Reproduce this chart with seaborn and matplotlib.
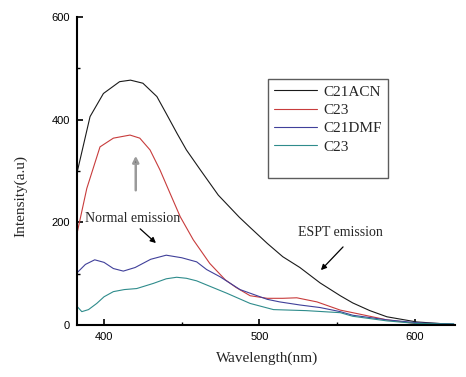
import matplotlib
matplotlib.use("Agg")
import matplotlib.pyplot as plt
from matplotlib.lines import Line2D
from matplotlib.ticker import MultipleLocator
import seaborn as sns
import pandas as pd

# ---- data ----
wl_acn = [382.8, 391, 399.6, 410, 417, 425, 434, 440, 447, 453, 462, 473.5, 487, 494,
          505, 515, 526, 539, 552, 560, 571, 582, 601, 625]
int_acn = [299, 406, 451, 474, 477, 471, 445, 412, 373, 341, 302, 253, 210, 190,
           159, 133, 112, 82, 57, 43, 28, 16, 6, 1]

wl_c23a = [382.8, 388.9, 397.4, 406, 416.7, 423, 429.6, 436, 442.4, 449, 457.4, 468,
           478, 485, 494, 505, 515, 524, 537, 552, 560, 582, 603, 625]
int_c23a = [181, 266, 347, 364, 370, 364, 341, 302, 257, 211, 166, 120,
            88, 73, 57, 52, 52, 53, 45, 29, 24, 10, 2, 0]

wl_dmf = [382.4, 388, 394, 400, 406, 412.4, 420, 430, 440, 450, 459.6, 466, 474.6,
          487.5, 505, 513, 526, 539, 552, 560, 582, 603, 625]
int_dmf = [101, 118, 127, 122, 110, 105, 112, 128, 136, 131, 123, 108, 94,
           69, 50, 45, 39, 34, 26, 19, 10, 4, 2]

wl_c23b = [382.4, 385.7, 390, 395.3, 400, 406, 413, 421, 431.7, 440, 446.7, 453, 459.6,
           466, 478.9, 494, 509, 530, 552, 560, 582, 601, 625]
int_c23b = [37, 26, 30, 42, 55, 65, 69, 71, 81, 90, 93, 91, 86,
            78, 62, 42, 30, 28, 24, 17, 8, 3, 2]

series_names = ["C21ACN", "C23", "C21DMF", "C23"]
series_colors = ["#1a1a1a", "#c83c3c", "#40409a", "#2f8c8c"]

y_ticks = [0, 200, 400, 600]
x_ticks = [400, 500, 600]

# ---- figure ----
sns.set_style("ticks")
plt.rcParams["font.family"] = ["Liberation Sans", "DejaVu Sans"]
serif = ["Liberation Serif", "DejaVu Serif"]

fig = plt.figure(figsize=(4.66, 3.77), dpi=100)
ax = fig.add_axes([77 / 466, 1 - 325 / 377, 378 / 466, 308 / 377])

datasets = [(wl_acn, int_acn), (wl_c23a, int_c23a), (wl_dmf, int_dmf), (wl_c23b, int_c23b)]
for (xs, ys), name, col in zip(datasets, series_names, series_colors):
    df = pd.DataFrame({"wl": xs, "I": ys})
    sns.lineplot(data=df, x="wl", y="I", ax=ax, color=col, lw=0.8, label=name,
                 legend=False)

ax.set_xlim(382.6, 625.8)
ax.set_ylim(0, 600)
ax.set_xticks(x_ticks)
ax.set_yticks(y_ticks)
ax.xaxis.set_minor_locator(MultipleLocator(50))
ax.yaxis.set_minor_locator(MultipleLocator(100))
ax.tick_params(which="major", direction="in", length=4, width=1.2, labelsize=8,
               pad=5, color="black", labelcolor="black")
ax.tick_params(which="minor", direction="in", length=2.5, width=1.0, color="black")
for s in ["top", "right"]:
    ax.spines[s].set_visible(False)
for s in ["left", "bottom"]:
    ax.spines[s].set_linewidth(1.5)
    ax.spines[s].set_color("black")

ax.set_xlabel("Wavelength(nm)", fontsize=11, family=serif)
ax.set_ylabel("Intensity(a.u)", fontsize=11, family=serif)
ax.xaxis.set_label_coords(0.503, -0.085)
ax.yaxis.set_label_coords(-0.132, 0.42)

# legend with the extra blank row like the original
handles, labels = ax.get_legend_handles_labels()
handles.append(Line2D([], [], color="none"))
labels.append(" ")
leg = ax.legend(handles, labels, loc="upper left", bbox_to_anchor=(0.505, 0.799),
                borderaxespad=0, frameon=True, fancybox=False, edgecolor="#333333",
                prop={"family": serif, "size": 11}, handlelength=2.8,
                handletextpad=0.4, labelspacing=0.3, borderpad=0.4)
leg.get_frame().set_linewidth(1.0)

# annotations
ax.annotate("", xy=(420.4, 335), xytext=(420.4, 257),
            arrowprops=dict(arrowstyle="-|>", ec="#9a9a9a", fc="black", lw=1.8,
                            mutation_scale=9))
ax.text(418.7, 208, "Normal emission", family=serif, fontsize=10, ha="center",
        va="center")
ax.annotate("", xy=(434.7, 156), xytext=(421.9, 191),
            arrowprops=dict(arrowstyle="-|>", color="black", lw=0.9, mutation_scale=8))
ax.text(551.8, 181, "ESPT emission", family=serif, fontsize=10, ha="center",
        va="center")
ax.annotate("", xy=(538.3, 103), xytext=(555, 156),
            arrowprops=dict(arrowstyle="-|>", color="black", lw=0.9, mutation_scale=8))

fig.savefig("out.png", dpi=100)
